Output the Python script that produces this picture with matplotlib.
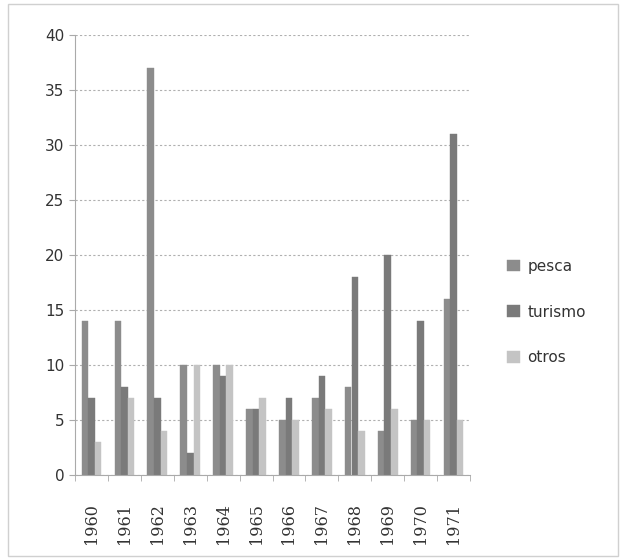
import numpy as np
import matplotlib

matplotlib.use("Agg")
import matplotlib.pyplot as plt
from matplotlib.patches import Rectangle

years = ["1960", "1961", "1962", "1963", "1964", "1965",
         "1966", "1967", "1968", "1969", "1970", "1971"]
pesca = [14, 14, 37, 10, 10, 6, 5, 7, 8, 4, 5, 16]
turismo = [7, 8, 7, 2, 9, 6, 7, 9, 18, 20, 14, 31]
otros = [3, 7, 4, 10, 10, 7, 5, 6, 4, 6, 5, 5]

series = [("pesca", pesca, "#8c8c8c"),
          ("turismo", turismo, "#7a7a7a"),
          ("otros", otros, "#c4c4c4")]

fig = plt.figure(figsize=(6.25, 5.6), dpi=100)
ax = fig.add_axes([0.12, 0.152, 0.632, 0.786])

# chart-area border like the Excel frame
fig.patches.append(Rectangle((0.012, 0.008), 0.976, 0.984, transform=fig.transFigure,
                             fill=False, edgecolor="#d0d0d0", linewidth=1))

x = np.arange(len(years))
w = 0.2
for i, (name, vals, col) in enumerate(series):
    ax.bar(x + (i - 1) * w, vals, width=w, color=col, edgecolor=col, linewidth=0.3, label=name)

ax.set_xlim(-0.5, len(years) - 0.5)
ax.set_ylim(0, 40)
ax.set_yticks(range(0, 41, 5))
ax.yaxis.grid(True, linestyle=(0, (2, 2)), color="#b0b0b0", linewidth=0.8)
ax.set_axisbelow(True)

ax.set_xticks(x)
ax.set_xticklabels(years, rotation=90, fontfamily="DejaVu Serif", fontsize=11.5, color="#333333")
ax.set_xticks(np.arange(-0.5, len(years), 1), minor=True)
ax.tick_params(axis="x", which="major", length=0, pad=20)
ax.tick_params(axis="x", which="minor", length=4, color="#aaaaaa")
ax.tick_params(axis="y", length=4, color="#aaaaaa", labelsize=11, labelcolor="#333333")

for side in ["top", "right"]:
    ax.spines[side].set_visible(False)
ax.spines["left"].set_color("#aaaaaa")
ax.spines["bottom"].set_color("#aaaaaa")

ax.legend(loc="center left", bbox_to_anchor=(1.06, 0.37), frameon=False,
          fontsize=11, handlelength=0.8, handleheight=0.8, labelspacing=2.0,
          handletextpad=0.5, labelcolor="#333333")

fig.savefig("out.png", dpi=100, facecolor="white")
